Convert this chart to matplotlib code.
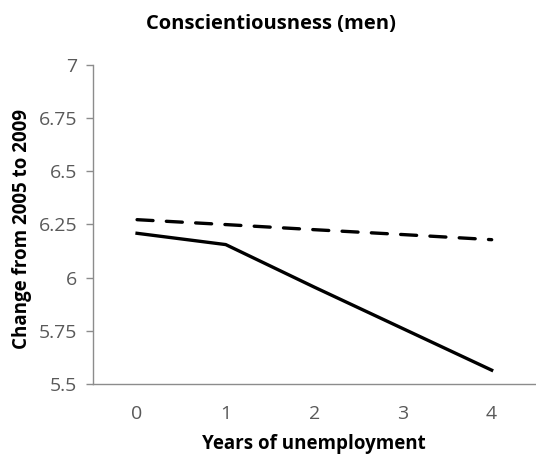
import matplotlib
matplotlib.use("Agg")
import matplotlib.pyplot as plt

years = [0, 1, 2, 3, 4]
solid_values = [6.208, 6.155, 5.955, 5.76, 5.565]
dashed_values = [6.272, 6.249, 6.225, 6.202, 6.178]
yticks = [5.5, 5.75, 6.0, 6.25, 6.5, 6.75, 7.0]
ytick_labels = ["5.5", "5.75", "6", "6.25", "6.5", "6.75", "7"]

plt.rcParams['font.family'] = ['Open Sans', 'DejaVu Sans']

fig = plt.figure(figsize=(5.36, 4.59), dpi=100)
ax = fig.add_axes([0.173, 0.1634, 0.827, 0.6956])

ax.plot(years, dashed_values, color='black', lw=2.4, linestyle=(0, (4.8, 4.0)),
        dash_capstyle='round')
ax.plot(years, solid_values, color='black', lw=2.4, solid_joinstyle='round')

ax.set_xlim(-0.5, 4.5)
ax.set_ylim(5.5, 7.0)
ax.set_xticks(years)
ax.set_xticklabels([str(y) for y in years])
ax.set_yticks(yticks)
ax.set_yticklabels(ytick_labels)

for s in ['top', 'right']:
    ax.spines[s].set_visible(False)
for s in ['left', 'bottom']:
    ax.spines[s].set_color('#8c8c8c')
    ax.spines[s].set_linewidth(1.0)

ax.tick_params(axis='y', length=5, width=1, color='#8c8c8c', labelsize=14,
               labelcolor='#595959', pad=6)
ax.tick_params(axis='x', length=0, labelsize=14, labelcolor='#595959', pad=15)

ax.set_xlabel("Years of unemployment", fontsize=13.5, fontweight='bold', labelpad=8)
ax.set_ylabel("Change from 2005 to 2009", fontsize=13.5, fontweight='bold', labelpad=5)
ax.yaxis.set_label_coords(-0.137, 0.485)
fig.text(0.505, 0.948, "Conscientiousness (men)", ha='center', va='center',
         fontsize=14.5, fontweight='bold')

fig.savefig("out.png", dpi=100)
